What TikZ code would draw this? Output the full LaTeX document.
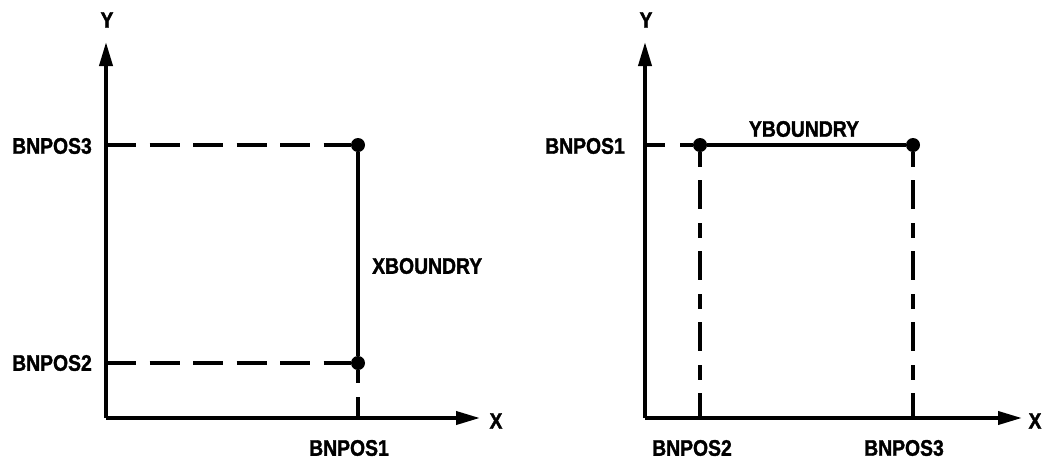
\documentclass[tikz,border=0pt]{standalone}
\usepackage{fontspec}
\newfontfamily\lblfont{Liberation Sans}[FakeStretch=0.86,FakeBold=1.5]
\usetikzlibrary{arrows.meta}
\tikzset{
  axis/.style={line width=3.8pt,-{Triangle[length=24pt,width=13pt]}},
  dline/.style={line width=3.3pt,dash pattern=on 30pt off 13.5pt},
  sline/.style={line width=3.3pt},
  lbl/.style={font=\lblfont\bfseries\fontsize{22.5}{22.5}\selectfont,inner sep=0pt},
  dot/.style={circle,fill=black,inner sep=0pt,minimum size=14pt}
}
\begin{document}
\begin{tikzpicture}[x=1pt,y=-1pt]
\useasboundingbox[fill=white] (0,0) rectangle (1045,464);
% left plot
\coordinate (o1) at (106,418);
\coordinate (y1) at (106,42);
\coordinate (x1) at (480,418);
\coordinate (a3) at (106,145);
\coordinate (a2) at (106,363);
\coordinate (b1) at (358,418);
\node[dot] (p3) at (358,145) {};
\node[dot] (p2) at (358,363) {};
\draw[axis] (o1) -- (y1);
\draw[axis] (o1) -- (x1);
\draw[dline] (a3) -- (p3);
\draw[dline] (a2) -- (p2);
\draw[sline] (p3) -- (p2);
\draw[sline,dash pattern=on 13pt off 14pt on 200pt] (p2) -- (b1);
\node[lbl] (ly1) at (107,20) {Y};
\node[lbl] (lx1) at (496,421) {X};
\node[lbl] (l3) at (52,146) {BNPOS3};
\node[lbl] (l2) at (52,363) {BNPOS2};
\node[lbl] (l1) at (349,448) {BNPOS1};
\node[lbl,anchor=west] (lxb) at (372,266) {XBOUNDRY};
% right plot
\coordinate (o2) at (645,418);
\coordinate (y2) at (645,42);
\coordinate (x2) at (1022,418);
\coordinate (c1) at (645,145);
\coordinate (d2) at (700,418);
\coordinate (d3) at (913,418);
\node[dot] (q2) at (700,145) {};
\node[dot] (q3) at (913,145) {};
\draw[axis] (o2) -- (y2);
\draw[axis] (o2) -- (x2);
\draw[sline,dash pattern=on 20pt off 15pt on 100pt] (c1) -- (q2);
\draw[sline] (q2) -- (q3);
\draw[sline,dash pattern=on 15pt off 13pt on 29pt off 14pt] (q2) -- (d2);
\draw[sline,dash pattern=on 15pt off 13pt on 29pt off 14pt] (q3) -- (d3);
\node[lbl] (ly2) at (646,20) {Y};
\node[lbl] (lx2) at (1035,421) {X};
\node[lbl] (m1) at (585,146) {BNPOS1};
\node[lbl] (m2) at (692,448) {BNPOS2};
\node[lbl] (m3) at (904,448) {BNPOS3};
\node[lbl] (lyb) at (804,129) {YBOUNDRY};
\end{tikzpicture}
\end{document}
